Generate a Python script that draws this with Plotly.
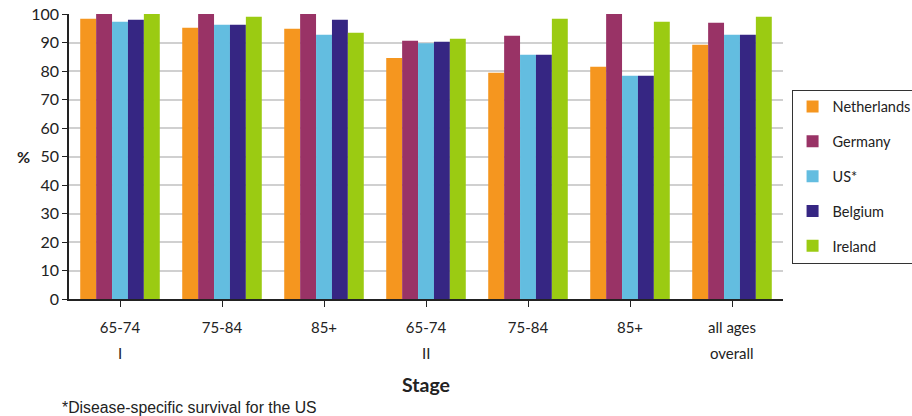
import plotly.graph_objects as go

age_groups = ["65-74", "75-84", "85+", "65-74", "75-84", "85+", "all ages"]
stage_labels = ["I", "", "", "II", "", "", "overall"]
countries = ["Netherlands", "Germany", "US*", "Belgium", "Ireland"]
netherlands = [98.3, 95.2, 94.8, 84.6, 79.4, 81.5, 89.2]
germany = [100, 100, 100, 90.6, 92.4, 100, 96.9]
us = [97.3, 96.2, 92.7, 89.7, 85.7, 78.3, 92.7]
belgium = [98.0, 96.2, 98.0, 90.3, 85.7, 78.3, 92.7]
ireland = [100, 99.0, 93.4, 91.3, 98.3, 97.3, 99.0]
colors = ["#F5961F", "#993366", "#63BDE0", "#362683", "#9BCB12"]
series = [netherlands, germany, us, belgium, ireland]

x_pos = list(range(len(age_groups)))

fig = go.Figure()
for name, vals, col in zip(countries, series, colors):
    fig.add_trace(go.Bar(x=x_pos, y=vals, name=name, marker_color=col,
                         marker_line_width=0, legendgroup=name))

font_main = "Lato, Carlito, Calibri, sans-serif"

fig.update_layout(
    width=912, height=416,
    margin=dict(l=69, r=129, t=14, b=117, autoexpand=False),
    paper_bgcolor="white", plot_bgcolor="white",
    barmode="group", bargap=0.22, bargroupgap=0,
    font=dict(family=font_main, size=15, color="#222222"),
    showlegend=True,
    legend=dict(x=1.012, y=0.735, xanchor="left", yanchor="top",
                bordercolor="#333333", borderwidth=1,
                font=dict(size=14.5, family=font_main),
                traceorder="grouped", tracegroupgap=13,
                itemwidth=30),
    xaxis=dict(tickmode="array", tickvals=x_pos, ticktext=age_groups,
               range=[-0.5, len(age_groups) - 0.5], automargin=False,
               showline=True, linecolor="#222222", linewidth=1.5,
               ticks="outside", tickson="boundaries", ticklen=6,
               tickcolor="#222222", showgrid=False, ticklabelstandoff=8,
               ticklabeloverflow="allow",
               tickfont=dict(size=15)),
    yaxis=dict(range=[0, 100], tickvals=list(range(0, 101, 10)), automargin=False,
               showline=True, linecolor="#222222", linewidth=1.5,
               ticks="outside", ticklen=5, tickcolor="#222222",
               gridcolor="#D0D0D0", gridwidth=1.5, ticklabeloverflow="allow",
               tickfont=dict(size=16)),
)

for xp, lab in zip(x_pos, stage_labels):
    if lab:
        fig.add_annotation(x=xp, y=-0.19, xref="x", yref="paper", text=lab,
                           showarrow=False, yanchor="middle",
                           font=dict(size=15, family=font_main))

fig.add_annotation(x=-0.075, y=0.5, xref="paper", yref="paper", text="<b>%</b>",
                   showarrow=False, font=dict(size=16, family=font_main))
fig.add_annotation(x=0.5, y=-0.30, xref="paper", yref="paper", text="<b>Stage</b>",
                   showarrow=False, yanchor="middle", font=dict(size=19.5, family=font_main))
fig.add_annotation(x=-0.012, y=-0.379, xref="paper", yref="paper", xanchor="left",
                   yanchor="middle", text="*Disease-specific survival for the US",
                   showarrow=False, font=dict(size=15.8, family="Liberation Sans, Arial, sans-serif"))

fig.write_html("out.html", config={"displayModeBar": False},
               post_script="document.body.style.margin='0';")
